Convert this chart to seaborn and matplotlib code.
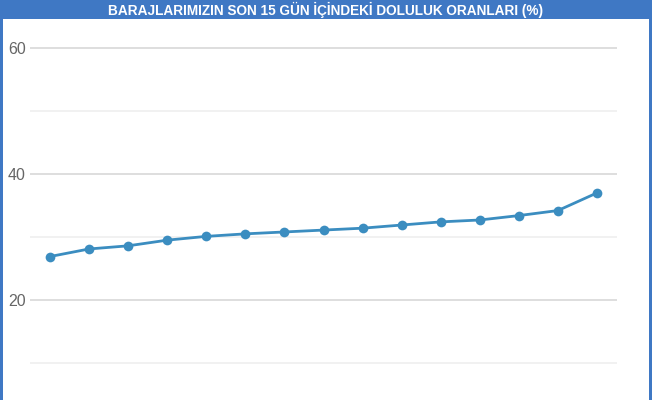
import matplotlib
matplotlib.use("Agg")
import matplotlib.pyplot as plt
import seaborn as sns
import pandas as pd
from matplotlib.patches import Rectangle

days = list(range(1, 16))
fill_pct = [26.9, 28.1, 28.6, 29.5, 30.1, 30.5, 30.8, 31.1, 31.4, 31.9, 32.4, 32.7, 33.4, 34.2, 37.0]
major_ticks = [20, 40, 60]
minor_ticks = [10, 30, 50]
title = "BARAJLARIMIZIN SON 15 GÜN İÇİNDEKİ DOLULUK ORANLARI (%)"

df = pd.DataFrame({"day": days, "pct": fill_pct})

sns.set_style("white")
plt.rcParams['font.family'] = ['Liberation Sans', 'DejaVu Sans']

W, H = 652, 400
fig = plt.figure(figsize=(W / 100, H / 100), dpi=100)
fig.patch.set_facecolor("white")

ax = fig.add_axes([30 / W, 0, (617 - 30) / W, 380 / H])
ax.set_facecolor("white")

px_per_unit = 6.3
ax.set_ylim(20 - 100 / px_per_unit, 60 + 28 / px_per_unit)
step = (597 - 50) / 14
ax.set_xlim(1 - 20 / step, 15 + 20 / step)

for t in major_ticks:
    ax.axhline(t, color="#d8d8d8", lw=1.2, zorder=0)
for t in minor_ticks:
    ax.axhline(t, color="#efefef", lw=1.2, zorder=0)

sns.lineplot(data=df, x="day", y="pct", ax=ax, color="#3b8dc0", lw=2,
             marker="o", markersize=7, markeredgewidth=0, zorder=3)

ax.set_yticks(major_ticks)
ax.set_yticklabels([str(t) for t in major_ticks], color="#666666", fontsize=11.5)
ax.tick_params(axis="y", length=0, pad=3)
ax.set_xticks([])
ax.set_xlabel("")
ax.set_ylabel("")
for s in ax.spines.values():
    s.set_visible(False)

# title bar and frame
blue = "#3f78c4"
fig.patches.append(Rectangle((0, 1 - 19 / H), 1, 19 / H, transform=fig.transFigure,
                             facecolor=blue, edgecolor="none", zorder=5))
fig.patches.append(Rectangle((0, 0), 3 / W, 1, transform=fig.transFigure,
                             facecolor=blue, edgecolor="none", zorder=5))
fig.patches.append(Rectangle((1 - 3 / W, 0), 3 / W, 1, transform=fig.transFigure,
                             facecolor=blue, edgecolor="none", zorder=5))
fig.text(0.5, 1 - 9.5 / H, title, color="white", fontsize=9.8, fontweight="bold",
         ha="center", va="center", zorder=6)

fig.savefig("out.png", dpi=100, facecolor="white")
